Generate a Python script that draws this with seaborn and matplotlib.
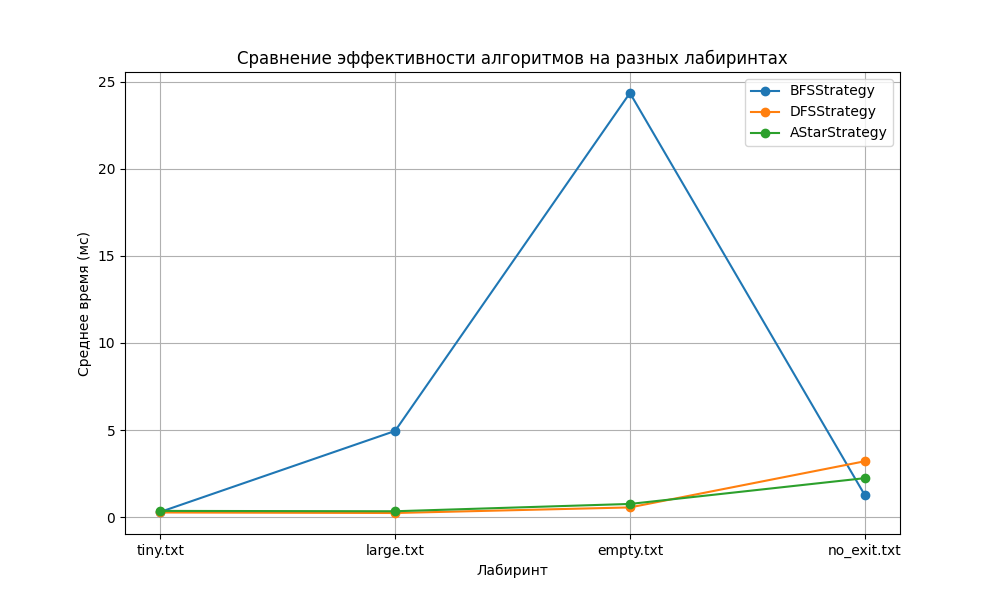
import matplotlib
matplotlib.use("Agg")
import matplotlib.pyplot as plt
import seaborn as sns
import pandas as pd

mazes = ["tiny.txt", "large.txt", "empty.txt", "no_exit.txt"]
bfs = [0.30, 4.95, 24.35, 1.27]
dfs = [0.27, 0.24, 0.56, 3.21]
astar = [0.36, 0.34, 0.76, 2.24]
strategies = ["BFSStrategy", "DFSStrategy", "AStarStrategy"]
colors = ["#1f77b4", "#ff7f0e", "#2ca02c"]

series = {"BFSStrategy": bfs, "DFSStrategy": dfs, "AStarStrategy": astar}

fig, ax = plt.subplots(figsize=(10, 6), dpi=100)
for name, col in zip(strategies, colors):
    df = pd.DataFrame({"maze": mazes, "time": series[name]})
    sns.lineplot(data=df, x="maze", y="time", ax=ax, color=col, marker="o",
                 markersize=6, markeredgecolor=col, markeredgewidth=1,
                 linewidth=1.5, label=name, sort=False)

ax.set_title("Сравнение эффективности алгоритмов на разных лабиринтах")
ax.set_xlabel("Лабиринт")
ax.set_ylabel("Среднее время (мс)")
ax.grid(True)
ax.legend(loc="upper right")
fig.savefig("out.png", dpi=100)
